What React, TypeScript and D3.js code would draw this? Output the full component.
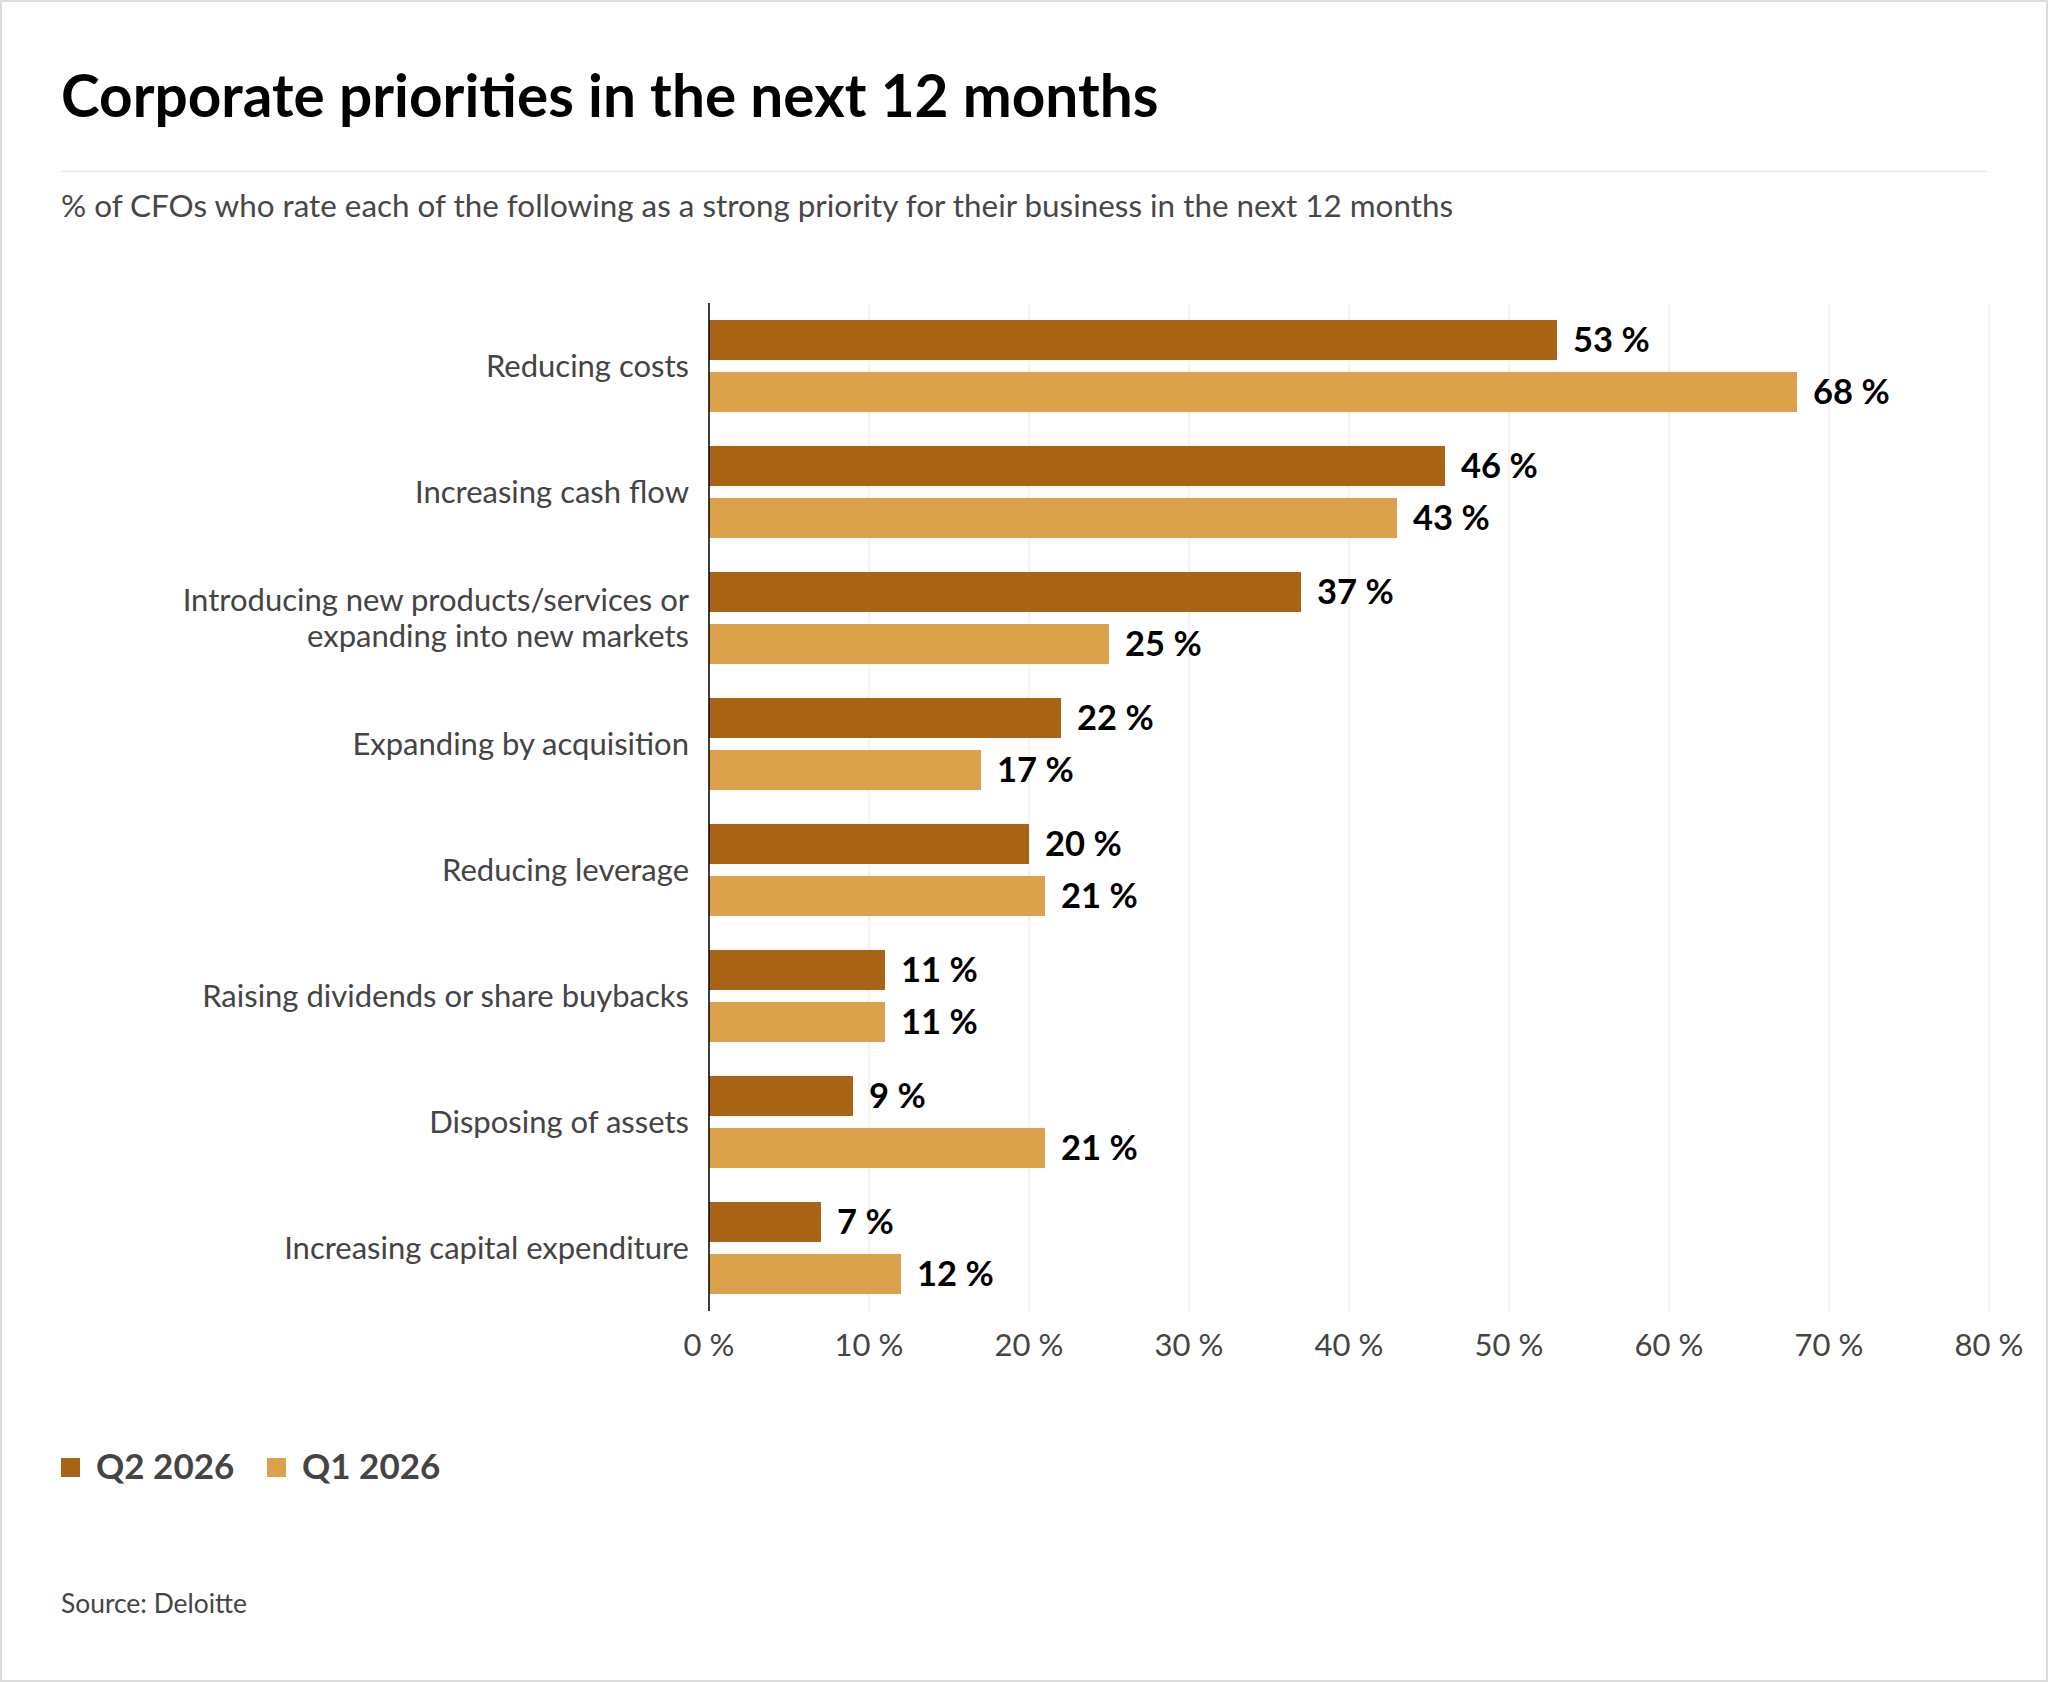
import * as d3 from 'd3'

const categories = [
    'Reducing costs',
    'Increasing cash flow',
    'Introducing new products/services or\nexpanding into new markets',
    'Expanding by acquisition',
    'Reducing leverage',
    'Raising dividends or share buybacks',
    'Disposing of assets',
    'Increasing capital expenditure',
]
const series = ['Q2 2026', 'Q1 2026']
const q2Values = [53, 46, 37, 22, 20, 11, 9, 7]
const q1Values = [68, 43, 25, 17, 21, 11, 21, 12]
const colors = ['#a86414', '#dba24b']

const W = 2048
const H = 1682
const FONT = 'Lato, "Noto Sans", sans-serif'

export default function App() {
    const x = d3.scaleLinear().domain([0, 80]).range([709, 1989])
    const y = d3.scaleBand<string>().domain(categories).range([303, 1311])
    const inner = d3
        .scaleBand<string>()
        .domain(series)
        .range([0, y.step()])
        .paddingInner(12 / 52)
        .paddingOuter(0.327)
    const values = [q2Values, q1Values]
    const ticks = x.ticks(8)
    const lineGap = 35.5

    return (
        <div style={{ position: 'absolute', left: 0, top: 0 }}>
            <svg width={W} height={H} style={{ background: 'white', display: 'block' }} fontFamily={FONT}>
                <rect x={1} y={1} width={W - 2} height={H - 2} fill="none" stroke="#dcdcdc" strokeWidth={2} />

                <text x={61} y={117} fontSize={58.5} fontWeight={700} fill="#000">
                    Corporate priorities in the next 12 months
                </text>
                <line x1={61} x2={1987} y1={171.5} y2={171.5} stroke="#e8e8e8" strokeWidth={1.5} />
                <text x={61} y={217} fontSize={31.4} fill="#474747">
                    % of CFOs who rate each of the following as a strong priority for their business in the next 12 months
                </text>

                {/* grid */}
                {ticks.map((t) => (
                    <line key={'g' + t} x1={x(t)} x2={x(t)} y1={303} y2={1311} stroke="#efefef" strokeWidth={1.5} />
                ))}

                {/* bars */}
                {categories.map((c, i) => {
                    const lines = c.split('\n')
                    return (
                        <g key={c} transform={`translate(0, ${y(c)})`}>
                            {series.map((s, k) => (
                                <g key={s}>
                                    <rect
                                        x={x(0)}
                                        y={inner(s)}
                                        width={x(values[k][i]) - x(0)}
                                        height={inner.bandwidth()}
                                        fill={colors[k]}
                                    />
                                    <text
                                        x={x(values[k][i]) + 16}
                                        y={(inner(s) ?? 0) + inner.bandwidth() / 2}
                                        dy="0.36em"
                                        fontSize={34.5}
                                        fontWeight={700}
                                        fill="#000"
                                    >
                                        {values[k][i]} %
                                    </text>
                                </g>
                            ))}
                            {lines.map((line, j) => (
                                <text
                                    key={j}
                                    x={689}
                                    y={y.bandwidth() / 2 + (j - (lines.length - 1) / 2) * lineGap}
                                    dy="0.36em"
                                    textAnchor="end"
                                    fontSize={31}
                                    fill="#444"
                                >
                                    {line}
                                </text>
                            ))}
                        </g>
                    )
                })}

                <line x1={x(0)} x2={x(0)} y1={303} y2={1311} stroke="#000" strokeWidth={1.5} />

                {ticks.map((t) => (
                    <text key={'t' + t} x={x(t)} y={1356} textAnchor="middle" fontSize={31} fill="#444">
                        {t} %
                    </text>
                ))}

                {/* legend */}
                {series.map((s, k) => (
                    <g key={'l' + s} transform={`translate(${61 + k * 206}, 0)`}>
                        <rect x={0} y={1458} width={19} height={19} fill={colors[k]} />
                        <text x={35} y={1479} fontSize={35} fontWeight={700} fill="#444">
                            {s}
                        </text>
                    </g>
                ))}

                <text x={61} y={1613} fontSize={26.4} fill="#444">
                    Source: Deloitte
                </text>
            </svg>
        </div>
    )
}
